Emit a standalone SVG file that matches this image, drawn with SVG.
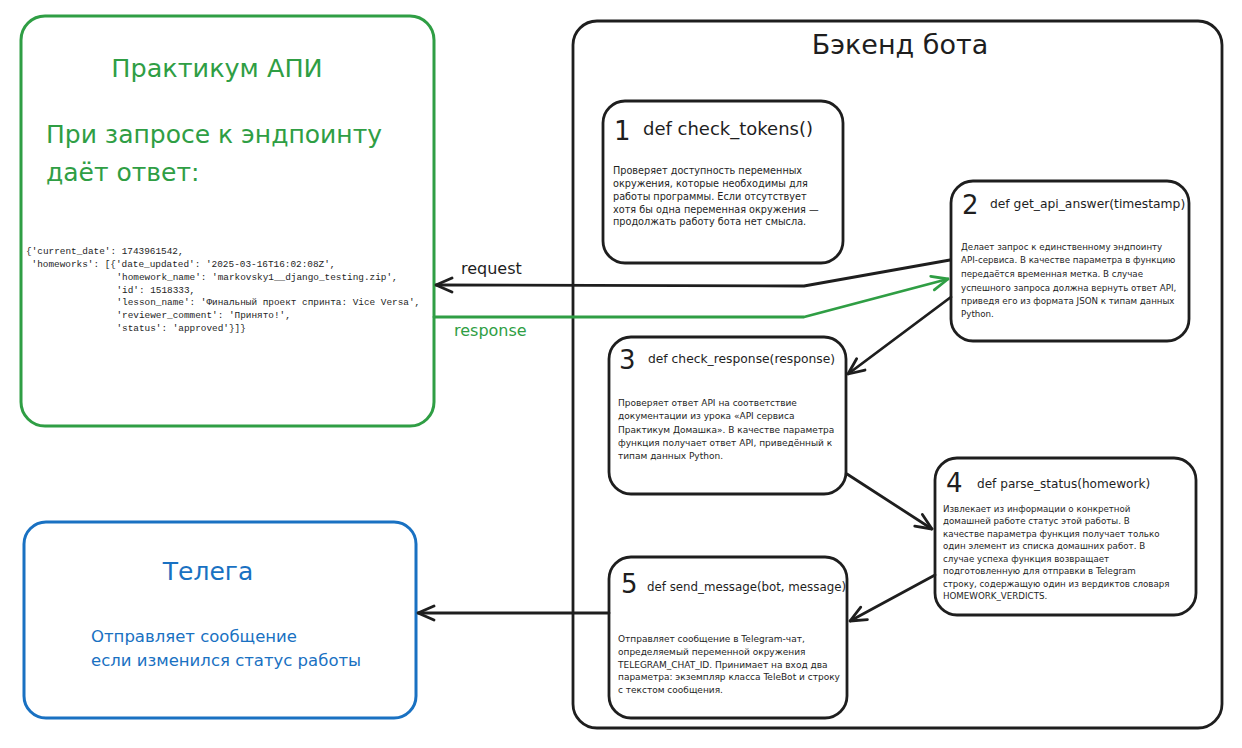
<svg xmlns="http://www.w3.org/2000/svg" width="1242" height="748" viewBox="0 0 1242 748">
<style>
.box{fill:#ffffff;stroke:#1e1e1e;stroke-width:2.8}
.t{font-family:"DejaVu Sans","Noto Sans",sans-serif;fill:#1e1e1e}
.num{font-size:26px}
.g{fill:#2f9e44}
.b{fill:#1971c2}
.mono{font-family:"Liberation Mono","DejaVu Sans Mono",monospace;font-size:9.4px;fill:#1e1e1e}
.ln{fill:none;stroke:#1e1e1e;stroke-width:2.8;stroke-linecap:round;stroke-linejoin:round}
.lg{fill:none;stroke:#2f9e44;stroke-width:2.8;stroke-linecap:round;stroke-linejoin:round}
</style>
<defs>
<marker id="ah" viewBox="0 0 20 20" refX="19" refY="10" markerWidth="20" markerHeight="20" markerUnits="userSpaceOnUse" orient="auto"><path d="M3,3 L19,10 L3,17" fill="none" stroke="#1e1e1e" stroke-width="2.8" stroke-linecap="round" stroke-linejoin="round"/></marker>
<marker id="ahg" viewBox="0 0 20 20" refX="19" refY="10" markerWidth="20" markerHeight="20" markerUnits="userSpaceOnUse" orient="auto"><path d="M3,3 L19,10 L3,17" fill="none" stroke="#2f9e44" stroke-width="2.8" stroke-linecap="round" stroke-linejoin="round"/></marker>
</defs>
<rect width="1242" height="748" fill="#ffffff"/>

<g id="praktikum-api">
<rect x="21" y="16" width="413" height="410" rx="24" fill="#ffffff" stroke="#2f9e44" stroke-width="3"/>
<text class="t g" x="217" y="77" font-size="25.5" text-anchor="middle">Практикум АПИ</text>
<text class="t g" x="46" y="143" font-size="25">При запросе к эндпоинту</text>
<text class="t g" x="46" y="181" font-size="25">даёт ответ:</text>
<text class="mono" x="26" y="254">{'current_date': 1743961542,</text>
<text class="mono" x="31.6" y="267">'homeworks': [{'date_updated': '2025-03-16T16:02:08Z',</text>
<text class="mono" x="116.4" y="280">'homework_name': 'markovsky1__django_testing.zip',</text>
<text class="mono" x="116.4" y="292.5">'id': 1518333,</text>
<text class="mono" x="116.4" y="305">'lesson_name': 'Финальный проект спринта: Vice Versa',</text>
<text class="mono" x="116.4" y="318">'reviewer_comment': 'Принято!',</text>
<text class="mono" x="116.4" y="331">'status': 'approved'}]}</text>
</g>

<g id="telega">
<rect x="24" y="522" width="392" height="196" rx="22" fill="#ffffff" stroke="#1971c2" stroke-width="3"/>
<text class="t b" x="208" y="580" font-size="25" text-anchor="middle">Телега</text>
<text class="t b" x="91" y="642" font-size="16.5">Отправляет сообщение</text>
<text class="t b" x="91" y="666" font-size="16.5">если изменился статус работы</text>
</g>

<g id="backend">
<rect x="573" y="21" width="649" height="707" rx="24" fill="#ffffff" stroke="#1e1e1e" stroke-width="2.8"/>
<text class="t" x="900" y="54" font-size="27" text-anchor="middle">Бэкенд бота</text>
</g>

<g id="check-tokens">
<rect class="box" x="603" y="101" width="240" height="162" rx="22"/>
<text class="t num" x="614" y="140">1</text>
<text class="t" x="643" y="135" font-size="18">def check_tokens()</text>
<g class="t" font-size="9.7">
<text x="613" y="174">Проверяет доступность переменных</text>
<text x="613" y="186.5">окружения, которые необходимы для</text>
<text x="613" y="200">работы программы. Если отсутствует</text>
<text x="613" y="212.5">хотя бы одна переменная окружения —</text>
<text x="613" y="225">продолжать работу бота нет смысла.</text>
</g>
</g>

<g id="get-api-answer">
<rect class="box" x="951" y="181" width="238" height="160" rx="22"/>
<text class="t num" x="962" y="214">2</text>
<text class="t" x="990" y="208" font-size="12.3">def get_api_answer(timestamp)</text>
<g class="t" font-size="8.7">
<text x="961" y="250">Делает запрос к единственному эндпоинту</text>
<text x="961" y="263">API-сервиса. В качестве параметра в функцию</text>
<text x="961" y="277">передаётся временная метка. В случае</text>
<text x="961" y="290.5">успешного запроса должна вернуть ответ API,</text>
<text x="961" y="304">приведя его из формата JSON к типам данных</text>
<text x="961" y="317">Python.</text>
</g>
</g>

<g id="check-response">
<rect class="box" x="609" y="337" width="237" height="157" rx="22"/>
<text class="t num" x="619" y="369">3</text>
<text class="t" x="648" y="363" font-size="12.3">def check_response(response)</text>
<g class="t" font-size="9">
<text x="618" y="406">Проверяет ответ API на соответствие</text>
<text x="618" y="419">документации из урока «API сервиса</text>
<text x="618" y="432.5">Практикум Домашка». В качестве параметра</text>
<text x="618" y="445.5">функция получает ответ API, приведённый к</text>
<text x="618" y="459">типам данных Python.</text>
</g>
</g>

<g id="parse-status">
<rect class="box" x="935" y="458" width="261" height="157" rx="22"/>
<text class="t num" x="946" y="492">4</text>
<text class="t" x="977" y="488" font-size="12.1">def parse_status(homework)</text>
<g class="t" font-size="8.7">
<text x="943" y="511.5">Извлекает из информации о конкретной</text>
<text x="943" y="524">домашней работе статус этой работы. В</text>
<text x="943" y="536.5">качестве параметра функция получает только</text>
<text x="943" y="549">один элемент из списка домашних работ. В</text>
<text x="943" y="561.5">случае успеха функция возвращает</text>
<text x="943" y="574">подготовленную для отправки в Telegram</text>
<text x="943" y="586.5">строку, содержащую один из вердиктов словаря</text>
<text x="943" y="599">HOMEWORK_VERDICTS.</text>
</g>
</g>

<g id="send-message">
<rect class="box" x="609" y="557" width="238" height="161" rx="22"/>
<text class="t num" x="621" y="593">5</text>
<text class="t" x="647" y="591" font-size="11.8">def send_message(bot, message)</text>
<g class="t" font-size="9">
<text x="618" y="641.5">Отправляет сообщение в Telegram-чат,</text>
<text x="618" y="655">определяемый переменной окружения</text>
<text x="618" y="667.5">TELEGRAM_CHAT_ID. Принимает на вход два</text>
<text x="618" y="680">параметра: экземпляр класса TeleBot и строку</text>
<text x="618" y="693">с текстом сообщения.</text>
</g>
</g>

<g id="connectors">
<polyline class="ln" points="950,260 804,286 436,285" marker-end="url(#ah)"/>
<text class="t" x="461" y="274" font-size="16">request</text>
<polyline class="lg" points="434,317 804,317 948,279" marker-end="url(#ahg)"/>
<text class="t g" x="454" y="336" font-size="16">response</text>
<line class="ln" x1="951" y1="297" x2="848" y2="374" marker-end="url(#ah)"/>
<line class="ln" x1="847" y1="474" x2="932" y2="529" marker-end="url(#ah)"/>
<line class="ln" x1="935" y1="575" x2="850" y2="621" marker-end="url(#ah)"/>
<line class="ln" x1="609" y1="613" x2="418" y2="613" marker-end="url(#ah)"/>
</g>
</svg>
